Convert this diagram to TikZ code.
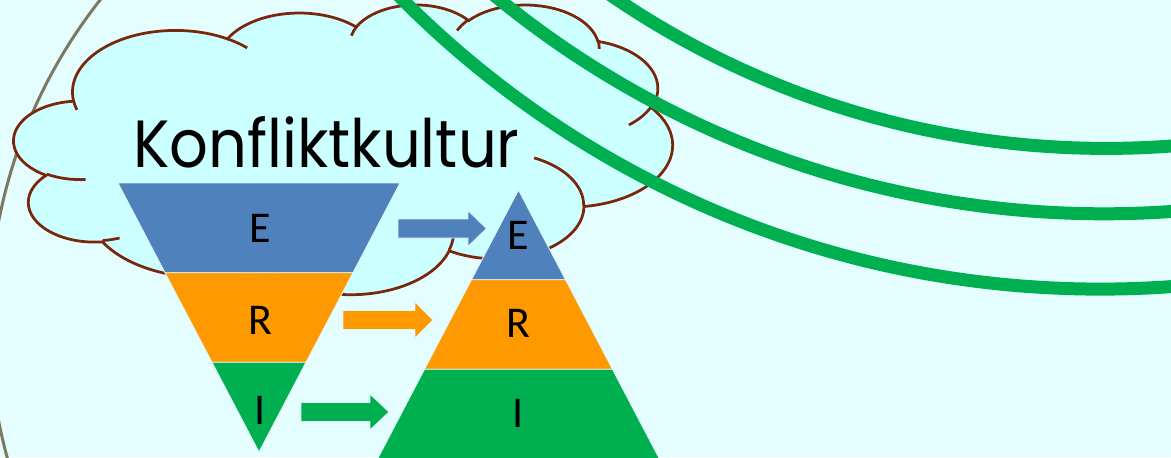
\documentclass[tikz,border=0pt]{standalone}
\usepackage{fontspec}
\setmainfont{Carlito}
\newfontfamily\titlefont[FakeStretch=0.91]{Poppins}
\definecolor{bgcyan}{RGB}{228,253,255}
\definecolor{cloudfill}{RGB}{204,255,255}
\definecolor{cloudline}{RGB}{122,38,12}
\definecolor{olive}{RGB}{125,120,96}
\definecolor{eblue}{RGB}{79,129,189}
\definecolor{rorange}{RGB}{255,153,0}
\definecolor{igreen}{RGB}{0,176,80}
\definecolor{gap}{RGB}{225,245,248}

\begin{document}
\begin{tikzpicture}[x=0.02cm,y=-0.02cm,
    band/.style={draw=gap,line width=0.5pt,line join=round},
    ring/.style={draw=igreen,line width=0.26cm},
    letter/.style={inner sep=0pt,font=\fontsize{25}{30}\selectfont}]
  \useasboundingbox (0,0) rectangle (1171,457);
  \fill[bgcyan] (0,0) rectangle (1171,457);
  \clip (0,0) rectangle (1171,457);
  % big round outline on the left
  \draw[olive,line width=0.06cm] (508,321) ++(140:519) arc[start angle=140,end angle=228,radius=519];
  % cloud
  \begin{scope}[shift={(14,4)},x=0.03048cm,y=-0.01342cm,color=cloudline,line width=0.055cm]
    \filldraw[fill=cloudfill] (39,143.7)
      arc[start angle=-187.745,delta angle=128.109,x radius=67.53,y radius=91.90]
      arc[start angle=-152.019,delta angle=106.567,x radius=53.33,y radius=72.67]
      arc[start angle=-153.490,delta angle=116.163,x radius=43.65,y radius=59.45]
      arc[start angle=-139.710,delta angle=129.499,x radius=48.57,y radius=65.95]
      arc[start angle=-74.768,delta angle=97.977,x radius=53.33,y radius=72.73]
      arc[start angle=-37.521,delta angle=119.384,x radius=67.75,y radius=92.20]
      arc[start angle=0.460,delta angle=121.515,x radius=57.85,y radius=78.67]
      arc[start angle=16.845,delta angle=129.384,x radius=67.52,y radius=92.15]
      arc[start angle=58.984,delta angle=91.193,x radius=77.20,y radius=105.43]
      arc[start angle=83.306,delta angle=139.806,x radius=43.60,y radius=59.18]
      arc[start angle=120.351,delta angle=143.762,x radius=43.45,y radius=59.45]
      -- cycle;
    % inner hooks
    \draw (46.93,261.77) arc[start angle=85.547,delta angle=34.804,x radius=43.45,y radius=59.45];
    \draw (69.28,348.99) arc[start angle=68.233,delta angle=15.073,x radius=43.60,y radius=59.18];
    \draw (164.78,390.90) arc[start angle=146.229,delta angle=12.243,x radius=67.52,y radius=92.15];
    \draw (288.27,347.51) arc[start angle=4.738,delta angle=12.107,x radius=67.52,y radius=92.15];
    \draw (341.29,229.54) arc[start angle=-64.027,delta angle=64.487,x radius=57.85,y radius=78.67];
    \draw (417.98,153.54) arc[start angle=23.210,delta angle=26.433,x radius=53.33,y radius=72.73];
    \draw (383.24,54.26) arc[start angle=-10.211,delta angle=11.032,x radius=48.57,y radius=65.95];
    \draw (290.78,39.52) arc[start angle=-156.284,delta angle=16.574,x radius=48.57,y radius=65.95];
    \draw (221.41,47.20) arc[start angle=-167.726,delta angle=14.236,x radius=43.65,y radius=59.45];
    \draw (140.00,51.92) arc[start angle=-59.636,delta angle=13.905,x radius=67.53,y radius=91.90];
    \draw (41.27,157.89) arc[start angle=163.196,delta angle=9.060,x radius=67.53,y radius=91.90];
  \end{scope}
  % green rings
  \draw[ring] (1100.5,-697) circle (986.1);
  \draw[ring] (1104,-746.2) circle (960);
  \draw[ring] (1106.2,-728.7) circle (877.1);
  % funnel
  \filldraw[band,fill=eblue] (118,183) -- (400,183) -- (353,272.7) -- (165,272.7) -- cycle;
  \filldraw[band,fill=rorange] (165,272.7) -- (353,272.7) -- (306,362.3) -- (212,362.3) -- cycle;
  \filldraw[band,fill=igreen] (212,362.3) -- (306,362.3) -- (259,452) -- cycle;
  % pyramid
  \filldraw[band,fill=eblue] (518.5,190) -- (565.5,279.7) -- (471.5,279.7) -- cycle;
  \filldraw[band,fill=rorange] (471.5,279.7) -- (565.5,279.7) -- (612.5,369.3) -- (424.5,369.3) -- cycle;
  \filldraw[band,fill=igreen] (424.5,369.3) -- (612.5,369.3) -- (659.5,459) -- (377.5,459) -- cycle;
  % arrows
  \filldraw[band,fill=eblue] (398,219) -- (468,219) -- (468,210.5) -- (486.5,228.5)
    -- (468,246.5) -- (468,238) -- (398,238) -- cycle;
  \filldraw[band,fill=rorange] (343,310.5) -- (415,310.5) -- (415,302) -- (433,320)
    -- (415,338) -- (415,329.5) -- (343,329.5) -- cycle;
  \filldraw[band,fill=igreen] (301,402.5) -- (370,402.5) -- (370,394) -- (389,412)
    -- (370,430) -- (370,421.5) -- (301,421.5) -- cycle;
  % labels
  \node[letter] (funE) at (260,228) {E};
  \node[letter] (funR) at (260,320) {R};
  \node[letter] (funI) at (260,410) {I};
  \node[letter] (pyrE) at (518,235) {E};
  \node[letter] (pyrR) at (518,323) {R};
  \node[letter] (pyrI) at (518,413) {I};
  \node[anchor=base west,inner sep=0pt,font=\titlefont\fontsize{38}{44}\selectfont] (title) at (133,167) {Konfliktkultur};
\end{tikzpicture}
\end{document}
